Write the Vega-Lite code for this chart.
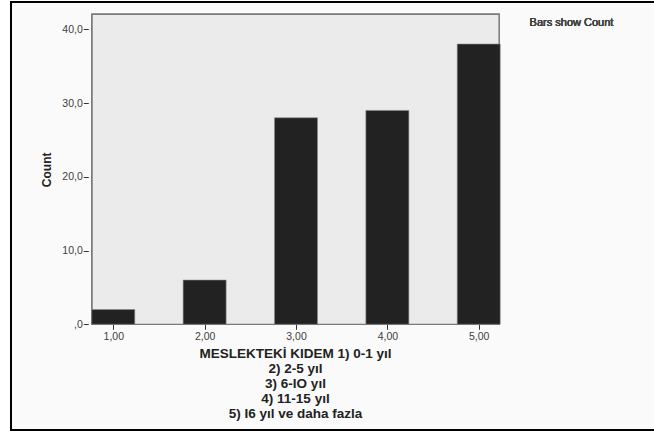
{
  "$schema": "https://vega.github.io/schema/vega-lite/v6.json",
  "autosize": {"type": "none"},
  "padding": {"left": 11, "top": 2, "right": -3, "bottom": 2},
  "width": 646,
  "height": 428,
  "background": "#ffffff",
  "config": {
    "view": {"stroke": "#000000", "strokeWidth": 2, "fill": "#fafafa"},
    "font": "Liberation Sans"
  },
  "data": {"values": [
    {"kidem": 1, "count": 2},
    {"kidem": 2, "count": 6},
    {"kidem": 3, "count": 28},
    {"kidem": 4, "count": 29},
    {"kidem": 5, "count": 38}
  ]},
  "layer": [
    {
      "mark": {"type": "rect", "fill": "#ebebeb", "stroke": "#7a7a7a", "strokeWidth": 1.3},
      "encoding": {
        "x": {
          "datum": 0.768,
          "type": "quantitative",
          "scale": {"domain": [-0.0647, 6.8966], "nice": false, "zero": false},
          "axis": {
            "values": [1, 2, 3, 4, 5],
            "labelExpr": "replace(format(datum.value, '.2f'), '.', ',')",
            "offset": -105.7,
            "domain": false,
            "grid": false,
            "ticks": true,
            "tickSize": 5,
            "tickColor": "#333333",
            "labelFontSize": 10.5,
            "labelColor": "#404040",
            "labelPadding": 2,
            "title": ["MESLEKTEKİ KIDEM 1) 0-1 yıl", "2) 2-5 yıl", "3) 6-IO yıl", "4) 11-15 yıl", "5) I6 yıl ve daha fazla"],
            "titleFontSize": 13.5,
            "titleFontWeight": "bold",
            "titleColor": "#222222",
            "titleLineHeight": 15,
            "titleX": 284,
            "titleY": 22,
            "titleAlign": "center",
            "titleBaseline": "top"
          }
        },
        "x2": {"datum": 5.2231},
        "y": {
          "datum": 0,
          "type": "quantitative",
          "scale": {"domain": [-14.33, 43.7], "nice": false, "zero": false},
          "axis": {
            "values": [0, 10, 20, 30, 40],
            "labelExpr": "datum.value == 0 ? ',0' : replace(format(datum.value, '.1f'), '.', ',')",
            "offset": -77.3,
            "domain": false,
            "grid": false,
            "ticks": true,
            "tickSize": 5,
            "tickColor": "#333333",
            "labelFontSize": 10.5,
            "labelColor": "#404040",
            "labelPadding": 1,
            "title": "Count",
            "titleFontSize": 12,
            "titleFontWeight": "bold",
            "titleColor": "#222222",
            "titleAngle": 270,
            "titleX": -42,
            "titleY": 167.3,
            "titleAlign": "center",
            "titleBaseline": "middle"
          }
        },
        "y2": {"datum": 42.03}
      }
    },
    {
      "mark": {"type": "bar", "width": 43, "fill": "#222222", "stroke": "#8a8a8a", "strokeWidth": 0.6},
      "encoding": {
        "x": {"field": "kidem", "type": "quantitative"},
        "y": {"field": "count", "type": "quantitative"},
        "y2": {"datum": 0}
      }
    },
    {
      "mark": {"type": "text", "text": "Bars show Count", "align": "left", "baseline": "middle", "fontSize": 11, "fontWeight": "normal", "color": "#444444"},
      "encoding": {
        "x": {"datum": 5.557, "type": "quantitative"},
        "y": {"datum": 40.9, "type": "quantitative"}
      }
    }
  ]
}
